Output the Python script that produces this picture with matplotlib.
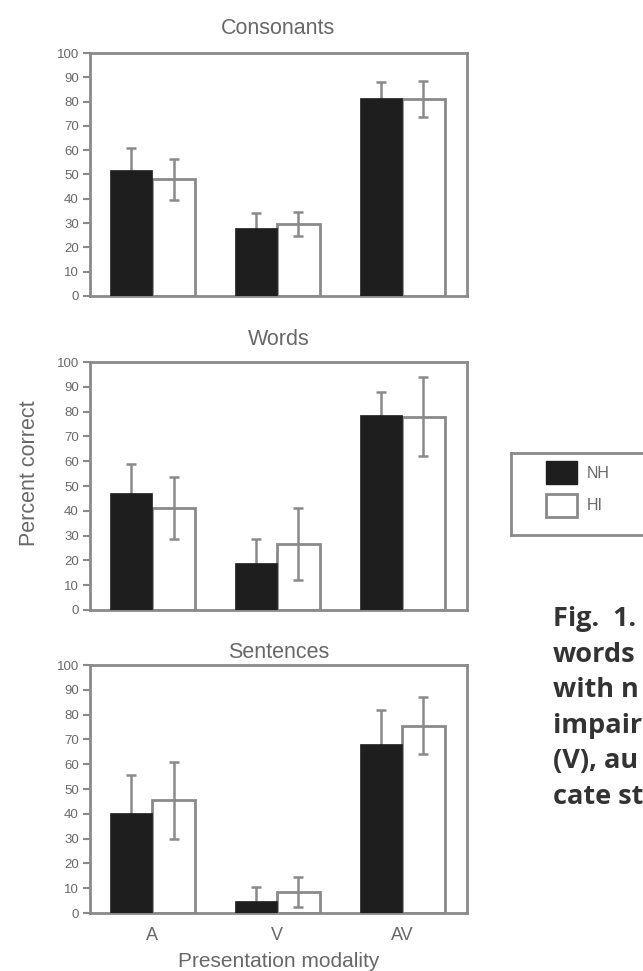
import matplotlib.pyplot as plt
import numpy as np
from matplotlib.patches import Patch

# values (percent correct, mean and SD)
modalities = ["A", "V", "AV"]
panel_titles = ["Consonants", "Words", "Sentences"]
group_labels = ["NH", "HI"]

cons_nh = [52, 28, 81.5]
cons_nh_sd = [9, 6, 6.5]
cons_hi = [48, 29.5, 81]
cons_hi_sd = [8.5, 5, 7.5]

words_nh = [47, 19, 78.5]
words_nh_sd = [12, 9.5, 9.5]
words_hi = [41, 26.5, 78]
words_hi_sd = [12.5, 14.5, 16]

sent_nh = [40.5, 5, 68]
sent_nh_sd = [15, 5.5, 14]
sent_hi = [45.5, 8.5, 75.5]
sent_hi_sd = [15.5, 6, 11.5]

# the caption is cut by the right edge of the page in the reference
caption_lines = ["Fig.  1.", "words", "with n", "impair", "(V), au", "cate st"]

GREY = "#8a8a8a"
TEXT = "#686868"
BLACK = "#1e1e1e"

W, H = 643, 971
plt.rcParams["font.family"] = ["Liberation Sans", "DejaVu Sans"]
fig = plt.figure(figsize=(W / 100, H / 100), dpi=100)


def px_axes(left, top, right, bottom):
    return fig.add_axes([left / W, 1 - bottom / H, (right - left) / W, (bottom - top) / H])


axes = [
    px_axes(90, 53, 467, 296),
    px_axes(90, 362, 467, 610),
    px_axes(90, 665, 467, 913),
]
title_pads = [14, 12, 5]

data = [
    (cons_nh, cons_nh_sd, cons_hi, cons_hi_sd),
    (words_nh, words_nh_sd, words_hi, words_hi_sd),
    (sent_nh, sent_nh_sd, sent_hi, sent_hi_sd),
]

x = np.arange(len(modalities))
width = 0.34

for ax, title, pad, (nh, nh_sd, hi, hi_sd) in zip(axes, panel_titles, title_pads, data):
    # errorbars sit behind the black bars but in front of the white ones
    ax.bar(x + width / 2, hi, width, color="white", edgecolor=GREY, linewidth=2, zorder=1)
    ax.errorbar(x - width / 2, nh, yerr=nh_sd, fmt="none", ecolor=GREY, elinewidth=1.8,
                capsize=3.6, capthick=1.8, zorder=2)
    ax.errorbar(x + width / 2, hi, yerr=hi_sd, fmt="none", ecolor=GREY, elinewidth=1.8,
                capsize=3.6, capthick=1.8, zorder=2)
    ax.bar(x - width / 2, nh, width, color=BLACK, edgecolor=BLACK, linewidth=0.5, zorder=3)

    ax.set_xlim(-0.5, 2.52)
    ax.set_ylim(0, 100)
    ax.set_yticks(np.arange(0, 101, 10))
    ax.tick_params(axis="y", direction="out", length=5, width=1.5, color=GREY,
                   labelsize=9.5, labelcolor=TEXT, pad=3)
    ax.set_xticks(x)
    ax.set_xticklabels(modalities if ax is axes[-1] else [])
    ax.tick_params(axis="x", length=0, labelsize=13, labelcolor=TEXT, pad=10)
    for spine in ax.spines.values():
        spine.set_color(GREY)
        spine.set_linewidth(2)
    ax.set_title(title, fontsize=15.5, color=TEXT, pad=pad)

axes[1].set_ylabel("Percent correct", fontsize=15.5, color=TEXT)
axes[1].yaxis.set_label_coords(-0.133, 0.552)
axes[2].set_xlabel("Presentation modality", fontsize=15, color=TEXT, labelpad=6)

# legend box runs off the right edge of the page, like the reference
lax = px_axes(511, 453, 690, 535)
lax.set_xticks([])
lax.set_yticks([])
for spine in lax.spines.values():
    spine.set_color(GREY)
    spine.set_linewidth(2)
handles = [
    Patch(facecolor=BLACK, edgecolor=BLACK),
    Patch(facecolor="white", edgecolor=GREY, linewidth=2),
]
leg = lax.legend(handles, group_labels, loc="upper left", frameon=False,
                 bbox_to_anchor=(35 / 179, 1 - 8 / 82), borderaxespad=0, borderpad=0,
                 fontsize=11.5, handlelength=1.95, handleheight=1.85, labelspacing=0.6,
                 handletextpad=0.6)
for t in leg.get_texts():
    t.set_color(TEXT)

for i, line in enumerate(caption_lines):
    fig.text(553 / W, 1 - (626 + 35.5 * i) / H, line, fontsize=19.5, fontweight="bold",
             family=["Open Sans", "DejaVu Sans"], color="#333333", va="baseline")

fig.savefig("out.png", dpi=100)
